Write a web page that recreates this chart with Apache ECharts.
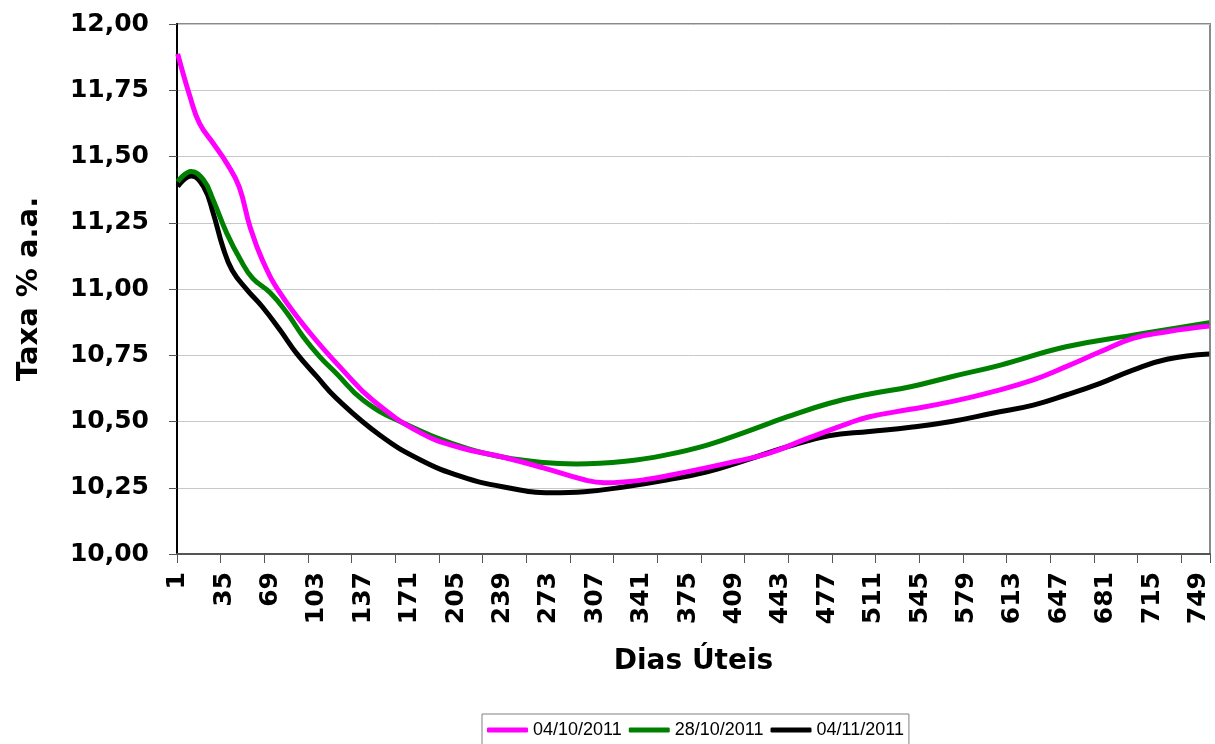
<!DOCTYPE html>
<html>
<head>
<meta charset="utf-8">
<script src="https://cdn.jsdelivr.net/npm/echarts@6/dist/echarts.min.js"></script>
<style>
html,body{margin:0;padding:0;background:#fff;}
#chart{width:1215px;height:744px;}
</style>
</head>
<body>
<div id="chart"></div>
<script>
// Number of business-day categories on the x axis
const dayCount = 757;
const seriesNames = ['04/10/2011', '28/10/2011', '04/11/2011'];
const seriesColors = ['#FF00FF', '#008000', '#000000'];

// [dia útil, taxa]
const curve0410 = [
  [1, 11.887], [10, 11.726], [17, 11.625], [27, 11.55], [37, 11.474], [46, 11.386],
  [54, 11.235], [63, 11.11], [76, 10.985], [98, 10.834], [122, 10.694], [144, 10.58],
  [179, 10.457], [209, 10.40], [239, 10.366], [269, 10.325], [299, 10.28], [314, 10.269],
  [343, 10.28], [374, 10.31], [404, 10.343], [434, 10.38], [463, 10.437], [493, 10.494],
  [508, 10.518], [538, 10.546], [568, 10.575], [598, 10.612], [628, 10.657], [652, 10.707],
  [677, 10.763], [701, 10.814], [726, 10.839], [757, 10.86]
];
const curve2810 = [
  [1, 11.405], [11, 11.443], [20, 11.411], [27, 11.336], [37, 11.21], [47, 11.11],
  [56, 11.04], [69, 10.985], [81, 10.91], [93, 10.82], [105, 10.745], [117, 10.683],
  [137, 10.58], [164, 10.50], [209, 10.405], [239, 10.366], [269, 10.345], [293, 10.34],
  [329, 10.35], [359, 10.374], [389, 10.411], [418, 10.462], [448, 10.518], [478, 10.568],
  [508, 10.604], [538, 10.631], [568, 10.669], [604, 10.713], [652, 10.782], [701, 10.826],
  [757, 10.873]
];
const curve0411 = [
  [1, 11.387], [11, 11.426], [20, 11.386], [27, 11.287], [34, 11.16], [41, 11.07],
  [52, 10.996], [63, 10.933], [76, 10.845], [88, 10.758], [103, 10.669], [117, 10.589],
  [149, 10.449], [179, 10.355], [209, 10.292], [239, 10.254], [275, 10.231], [299, 10.235],
  [329, 10.254], [359, 10.279], [389, 10.31], [418, 10.355], [448, 10.405], [478, 10.446],
  [508, 10.462], [538, 10.478], [568, 10.50], [598, 10.531], [628, 10.562], [652, 10.60],
  [677, 10.644], [701, 10.694], [726, 10.735], [757, 10.755]
];
const curves = [curve0410, curve2810, curve0411];

const yMin = 10, yMax = 12, yStep = 0.25;
const labelStep = 34;   // label every 34 days
const tickStep = 32;    // tick marks spacing (in categories)

const categories = [];
for (let d = 1; d <= dayCount; d++) categories.push(String(d));

const chart = echarts.init(document.getElementById('chart'), null, {renderer: 'canvas'});
const boldFont = 'DejaVu Sans';

chart.setOption({
  animation: false,
  backgroundColor: '#ffffff',
  grid: {
    left: 177, top: 24, right: 5, bottom: 190,
    show: true, borderColor: '#8a8a8a', borderWidth: 2, backgroundColor: 'transparent'
  },
  legend: {
    data: seriesNames,
    left: 482, top: 714,
    orient: 'horizontal',
    icon: 'roundRect',
    itemWidth: 41, itemHeight: 5,
    itemGap: 7,
    padding: [7, 5, 20, 5],
    borderColor: '#808080', borderWidth: 1,
    textStyle: {fontFamily: 'Liberation Sans', fontSize: 18, color: '#000'}
  },
  xAxis: {
    type: 'category',
    data: categories,
    boundaryGap: true,
    name: 'Dias Úteis',
    nameLocation: 'middle',
    nameGap: 94,
    nameTextStyle: {fontFamily: boldFont, fontWeight: 'bold', fontSize: 28, color: '#000'},
    axisLine: {show: true, lineStyle: {color: '#555555', width: 2}},
    axisTick: {show: true, interval: tickStep - 1, length: 9, lineStyle: {color: '#555555', width: 1}},
    axisLabel: {
      interval: labelStep - 1, rotate: 90, margin: 18,
      fontFamily: boldFont, fontWeight: 'bold', fontSize: 25, color: '#000'
    },
    splitLine: {show: false}
  },
  yAxis: {
    type: 'value',
    min: yMin, max: yMax, interval: yStep,
    name: 'Taxa % a.a.',
    nameLocation: 'middle',
    nameGap: 133,
    nameRotate: 90,
    nameTextStyle: {fontFamily: boldFont, fontWeight: 'bold', fontSize: 29, color: '#000'},
    axisLine: {show: true, lineStyle: {color: '#000', width: 2}},
    axisTick: {show: true, length: 8, lineStyle: {color: '#555555', width: 1}},
    axisLabel: {
      margin: 28,
      fontFamily: boldFont, fontWeight: 'bold', fontSize: 25, color: '#000',
      formatter: v => v.toFixed(2).replace('.', ',')
    },
    splitLine: {show: true, lineStyle: {color: '#c8c8c8', width: 1}}
  },
  series: seriesNames.map((name, i) => ({
    name: name,
    type: 'line',
    data: curves[i].map(p => [String(p[0]), p[1]]),
    smooth: 0.45,
    symbol: 'none',
    lineStyle: {color: seriesColors[i], width: 5},
    itemStyle: {color: seriesColors[i]},
    z: 3 - i
  }))
});
</script>
</body>
</html>
